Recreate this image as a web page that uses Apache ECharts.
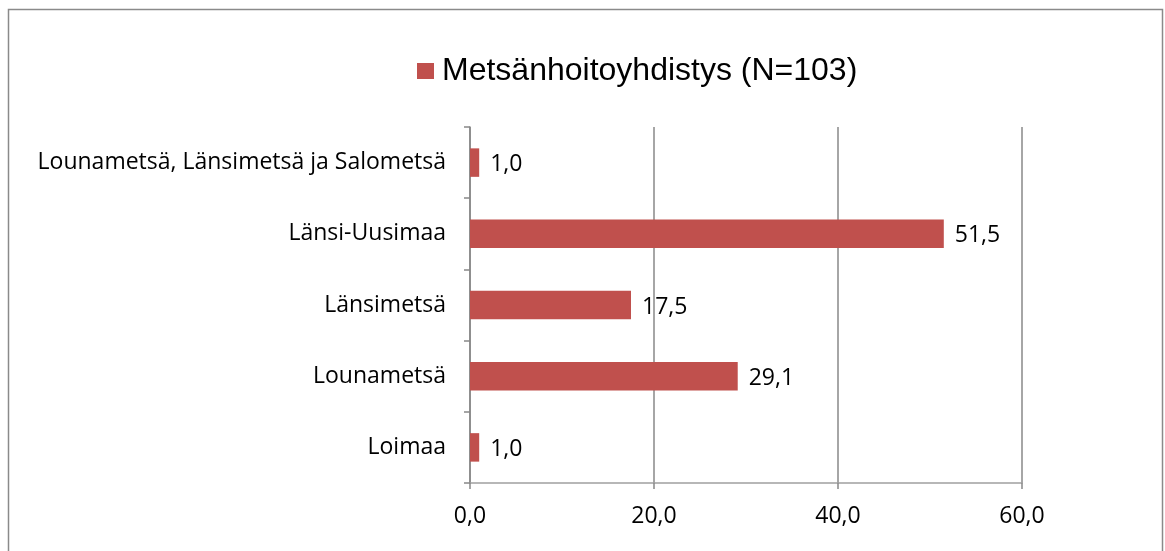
<!DOCTYPE html>
<html>
<head>
<meta charset="utf-8">
<script src="https://cdn.jsdelivr.net/npm/echarts@6/dist/echarts.min.js"></script>
<style>
  html, body { margin: 0; padding: 0; background: #fff; }
  #chart { width: 1165px; height: 551px; }
</style>
</head>
<body>
<div id="chart"></div>
<script>
// data
var categories = ['Loimaa', 'Lounametsä', 'Länsimetsä', 'Länsi-Uusimaa', 'Lounametsä, Länsimetsä ja Salometsä'];
var values = [1.0, 29.1, 17.5, 51.5, 1.0];
var seriesName = 'Metsänhoitoyhdistys (N=103)';
var xTicks = [0, 20, 40, 60];

function fmt(v) {
  return Number(v).toFixed(1).replace('.', ',');
}

var chart = echarts.init(document.getElementById('chart'));
var option = {
  animation: false,
  textStyle: { fontFamily: 'Open Sans' },
  graphic: [{
    type: 'rect',
    shape: { x: 8.5, y: 9.5, width: 1154, height: 560 },
    style: { fill: 'none', stroke: '#8a8a8a', lineWidth: 1.5 },
    silent: true
  }],
  legend: {
    left: 417,
    top: 55,
    padding: 0,
    itemWidth: 17,
    itemHeight: 16,
    itemGap: 6,
    textStyle: { fontFamily: 'Liberation Sans', fontSize: 32, color: '#000', padding: [0, 0, 0, 3] },
    data: [{ name: seriesName, icon: 'rect' }]
  },
  grid: {
    left: 470,
    right: 143,
    top: 127,
    bottom: 68
  },
  xAxis: {
    type: 'value',
    min: xTicks[0],
    max: xTicks[xTicks.length - 1],
    interval: 20,
    axisLine: { show: true, lineStyle: { color: '#a0a0a0', width: 1.5 } },
    axisTick: { show: true, length: 6, lineStyle: { color: '#888', width: 1.5 } },
    axisLabel: {
      formatter: fmt,
      fontSize: 23,
      color: '#000',
      margin: 22
    },
    splitLine: { show: true, lineStyle: { color: '#888', width: 1.5 } }
  },
  yAxis: {
    type: 'category',
    data: categories,
    axisLine: { show: true, onZero: false, lineStyle: { color: '#888', width: 1.5 } },
    axisTick: { show: true, length: 6, lineStyle: { color: '#888', width: 1.5 } },
    axisLabel: { fontSize: 23, color: '#000', margin: 24 }
  },
  series: [{
    name: seriesName,
    type: 'bar',
    data: values,
    barWidth: '40%',
    itemStyle: { color: '#C0504D' },
    label: {
      show: true,
      position: 'right',
      distance: 11,
      fontSize: 23,
      color: '#000',
      offset: [0, 2],
      formatter: function (p) { return fmt(p.value); }
    }
  }]
};
chart.setOption(option);
</script>
</body>
</html>
